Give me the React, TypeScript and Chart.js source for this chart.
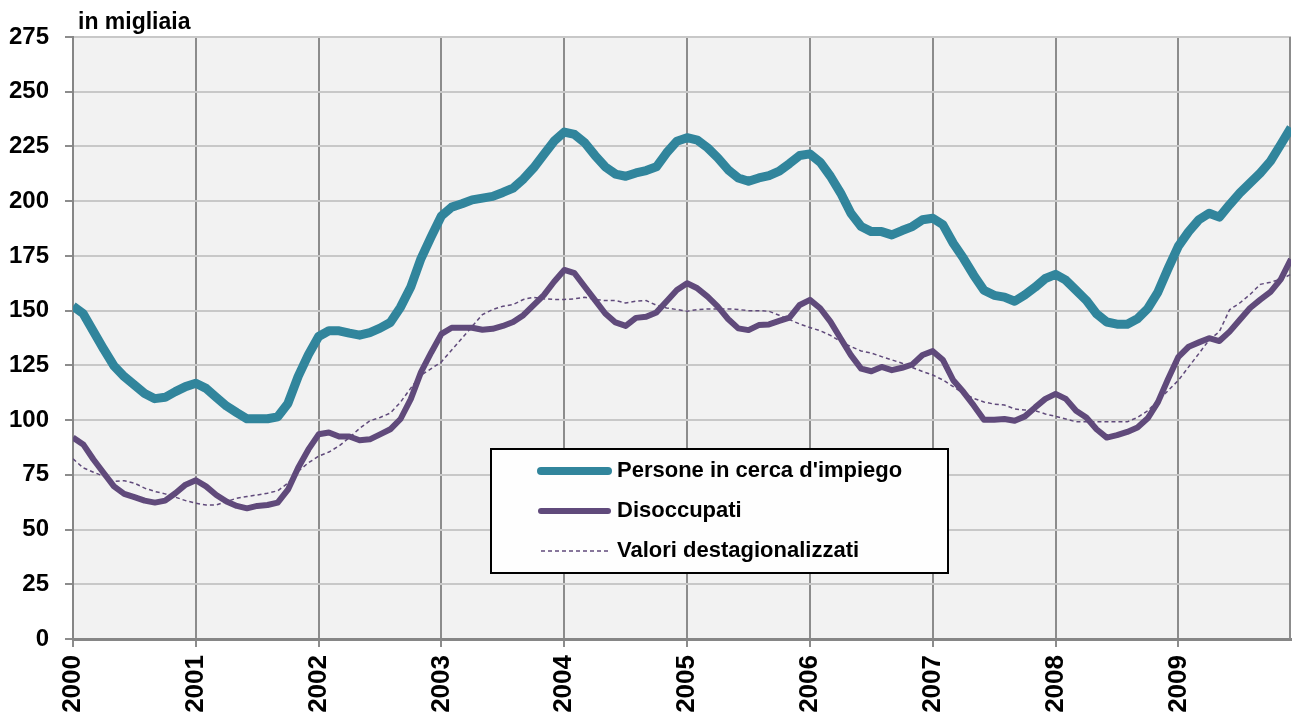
import React, { useEffect, useRef } from "react";
import { Chart, registerables } from "chart.js";

Chart.register(...registerables);

const yearLabels = ["2000", "2001", "2002", "2003", "2004", "2005", "2006", "2007", "2008", "2009"];
const monthsPerYear = 12;
const yTicks = [0, 25, 50, 75, 100, 125, 150, 175, 200, 225, 250, 275];

const seriesNames = ["Persone in cerca d'impiego", "Disoccupati", "Valori destagionalizzati"];

const persone = [
  152, 148.6, 140.5, 132.4, 124.8, 119.9, 116, 112.2, 109.8, 110.4, 113, 115.3,
  116.8, 114.5, 110.4, 106.4, 103.4, 100.6, 100.6, 100.6, 101.5, 107.6, 120, 129.9,
  138.2, 140.8, 140.8, 139.7, 138.8, 140, 142, 144.6, 151.6, 160.8, 173.8, 183.8,
  193.3, 197.3, 198.8, 200.6, 201.4, 202.2, 204, 206, 210.1, 215.2, 221.3, 227.4,
  231.6, 230.5, 226.7, 220.9, 215.7, 212.4, 211.4, 212.9, 214, 215.7, 222.1, 227.4,
  229, 227.9, 224.4, 219.8, 214.4, 210.6, 209.1, 210.6, 211.7, 213.7, 217.2, 220.9,
  221.6, 217.8, 211.4, 203.7, 194.5, 188.4, 186.1, 186.1, 184.6, 186.6, 188.4, 191.5,
  192.2, 189.2, 180.8, 173.9, 166.2, 159.3, 157, 156.2, 154.3, 157.2, 160.7, 164.7,
  166.6, 163.9, 159.3, 154.7, 148.6, 144.8, 143.8, 143.8, 146.3, 150.9, 158.5, 169.3,
  179.5, 186.1, 191.5, 194.5, 192.7, 198.4, 203.7, 208.3, 212.9, 218.3, 225.9, 233.6,
];

const disoccupati = [
  92, 88.9, 82, 75.8, 69.7, 66.3, 64.8, 63.2, 62.3, 63.2, 66.6, 70.5,
  72.5, 69.7, 65.8, 62.8, 60.8, 59.7, 60.8, 61.2, 62.3, 68.2, 78.2, 86.6,
  93.5, 94.3, 92.5, 92.5, 90.8, 91.2, 93.5, 95.8, 100.5, 109.6, 121.9, 130.9,
  139.4, 142.2, 142.2, 142.2, 141.3, 141.7, 143, 144.8, 147.9, 152.5, 157.1, 163.2,
  168.6, 167.1, 160.9, 154.8, 148.7, 144.6, 143, 146.7, 147.2, 149.2, 154.3, 159.4,
  162.5, 160.2, 156.4, 151.8, 146.2, 141.9, 141.1, 143.4, 143.7, 145.3, 146.8, 152.6,
  154.9, 151.1, 145, 137.3, 129.7, 123.5, 122.3, 124.3, 122.8, 123.9, 125.4, 129.7,
  131.5, 127.4, 118.2, 112.8, 106.7, 100.2, 100.2, 100.5, 99.7, 101.7, 105.8, 109.7,
  112, 109.7, 104.3, 101.2, 95.8, 92, 93.1, 94.6, 96.6, 100.8, 108.2, 118.9,
  128.9, 133.5, 135.5, 137.4, 136.1, 140.4, 145.8, 151.2, 155, 158.6, 164.3, 173.5,
];

const destagionalizzati = [
  82.3, 78.2, 76.2, 74.3, 72, 72.3, 71.2, 68.9, 67.4, 66.3, 64.8, 63.2,
  62, 61.2, 61.2, 62.8, 64.3, 65.1, 65.8, 66.6, 67.7, 71.2, 76.6, 80.5,
  83.5, 85.4, 88.2, 92, 96.2, 99.7, 101.2, 103.2, 108.2, 114.6, 120.5, 123.5,
  126.6, 132, 137.4, 142.8, 148.2, 150.5, 152, 152.8, 155.1, 156.1, 155.4, 155.1,
  155.1, 155.4, 156.1, 155.1, 154.6, 154.6, 153.5, 154.3, 154.6, 152.5, 151.2, 150.5,
  149.7, 150.5, 150.8, 150.8, 150.8, 150.5, 150, 150, 149.7, 147.9, 145.9, 143.9,
  142.3, 140.8, 138.7, 135.9, 133.6, 131.6, 130.6, 129, 127.5, 126, 124, 122.2,
  120.6, 118.3, 115.3, 112.2, 109.9, 108.3, 107.3, 106.9, 105.1, 104.6, 104.3, 102.8,
  101.7, 100.5, 99.2, 99.2, 99.2, 99.2, 99.2, 99.2, 101.2, 104.3, 108.9, 113.5,
  118.2, 124.3, 130.4, 136.6, 140.4, 150.4, 153.5, 157.4, 162, 163, 164.3, 166.6,
];

const FONT = "'Liberation Sans', Arial, sans-serif";
const TEAL = "#31859C";
const PURPLE = "#604A7B";

const toPoints = (arr: number[]) => arr.map((y, i) => ({ x: i, y }));

const bgPlugin = {
  id: "plotBg",
  beforeDraw(chart: any) {
    const { ctx, chartArea: a } = chart;
    ctx.save();
    ctx.fillStyle = "#f2f2f2";
    ctx.fillRect(a.left, a.top, a.right - a.left, a.bottom - a.top);
    ctx.restore();
  },
  beforeDatasetsDraw(chart: any) {
    const { ctx, chartArea: a } = chart;
    ctx.save();
    ctx.strokeStyle = "#8c8c8c";
    ctx.lineWidth = 2;
    ctx.beginPath();
    ctx.moveTo(a.right - 1, a.top);
    ctx.lineTo(a.right - 1, a.bottom);
    ctx.stroke();
    ctx.restore();
  },
  afterDraw(chart: any) {
    const { ctx } = chart;
    ctx.save();
    // unit label
    ctx.fillStyle = "#000";
    ctx.font = `bold 23px ${FONT}`;
    ctx.textAlign = "left";
    ctx.textBaseline = "alphabetic";
    ctx.fillText("in migliaia", 78, 29);

    // legend box
    const bx = 491, by = 449, bw = 457, bh = 124;
    ctx.fillStyle = "#fefefe";
    ctx.fillRect(bx, by, bw, bh);
    ctx.strokeStyle = "#000";
    ctx.lineWidth = 2;
    ctx.strokeRect(bx, by, bw, bh);
    const rows = [471, 511, 551];
    chart.data.datasets.forEach((ds: any, i: number) => {
      const y = rows[i];
      ctx.save();
      ctx.strokeStyle = ds.borderColor;
      ctx.lineWidth = i === 0 ? 8 : i === 1 ? 6 : 1.5;
      ctx.lineCap = i === 2 ? "butt" : "round";
      ctx.setLineDash(ds.borderDash || []);
      ctx.beginPath();
      ctx.moveTo(541, y);
      ctx.lineTo(608, y);
      ctx.stroke();
      ctx.restore();
      ctx.fillStyle = "#000";
      ctx.font = `bold 22px ${FONT}`;
      ctx.textBaseline = "middle";
      ctx.fillText(ds.label, 617, y);
    });
    ctx.restore();
  },
};

export default function App() {
  const ref = useRef<HTMLCanvasElement | null>(null);
  useEffect(() => {
    if (!ref.current) return;
    const chart = new Chart(ref.current, {
      type: "line",
      data: {
        datasets: [
          {
            label: seriesNames[0],
            data: toPoints(persone),
            borderColor: TEAL,
            borderWidth: 9,
            pointRadius: 0,
            borderJoinStyle: "round",
            order: 2,
          },
          {
            label: seriesNames[1],
            data: toPoints(disoccupati),
            borderColor: PURPLE,
            borderWidth: 6,
            pointRadius: 0,
            borderJoinStyle: "round",
            order: 1,
          },
          {
            label: seriesNames[2],
            data: toPoints(destagionalizzati),
            borderColor: PURPLE,
            borderWidth: 1.5,
            borderDash: [4, 3],
            pointRadius: 0,
            order: 0,
          },
        ],
      } as any,
      options: {
        animation: false,
        responsive: false,
        devicePixelRatio: 1,
        layout: { padding: { top: 37, right: 3, left: 0, bottom: 0 } },
        plugins: { legend: { display: false }, tooltip: { enabled: false } },
        scales: {
          x: {
            type: "linear",
            min: 0,
            max: yearLabels.length * monthsPerYear - 1,
            afterBuildTicks: (axis: any) => {
              axis.ticks = yearLabels.map((_, i) => ({ value: i * monthsPerYear }));
            },
            afterFit: (s: any) => {
              s.height = 83;
            },
            ticks: {
              autoSkip: false,
              maxRotation: 90,
              minRotation: 90,
              padding: 8,
              color: "#000",
              font: { family: FONT, size: 26, weight: "bold" },
              callback: (_v: any, idx: number) => yearLabels[idx],
            },
            grid: { color: "#8c8c8c", lineWidth: 2, tickLength: 8 },
            border: { color: "#868686", width: 3 },
          },
          y: {
            min: 0,
            max: 275,
            afterBuildTicks: (axis: any) => {
              axis.ticks = yTicks.map((v) => ({ value: v }));
            },
            afterFit: (s: any) => {
              s.width = 73;
            },
            ticks: {
              padding: 16,
              color: "#000",
              font: { family: FONT, size: 24, weight: "bold" },
              callback: (v: any) => String(v),
            },
            grid: { color: "#c8c8c8", lineWidth: 2, tickLength: 8, tickColor: "#8c8c8c" },
            border: { color: "#868686", width: 2 },
          },
        },
      } as any,
      plugins: [bgPlugin],
    });
    return () => chart.destroy();
  }, []);
  return (
    <div style={{ position: "absolute", left: 0, top: 0, width: 1294, height: 722, background: "#fff" }}>
      <canvas ref={ref} width={1294} height={722} />
    </div>
  );
}
